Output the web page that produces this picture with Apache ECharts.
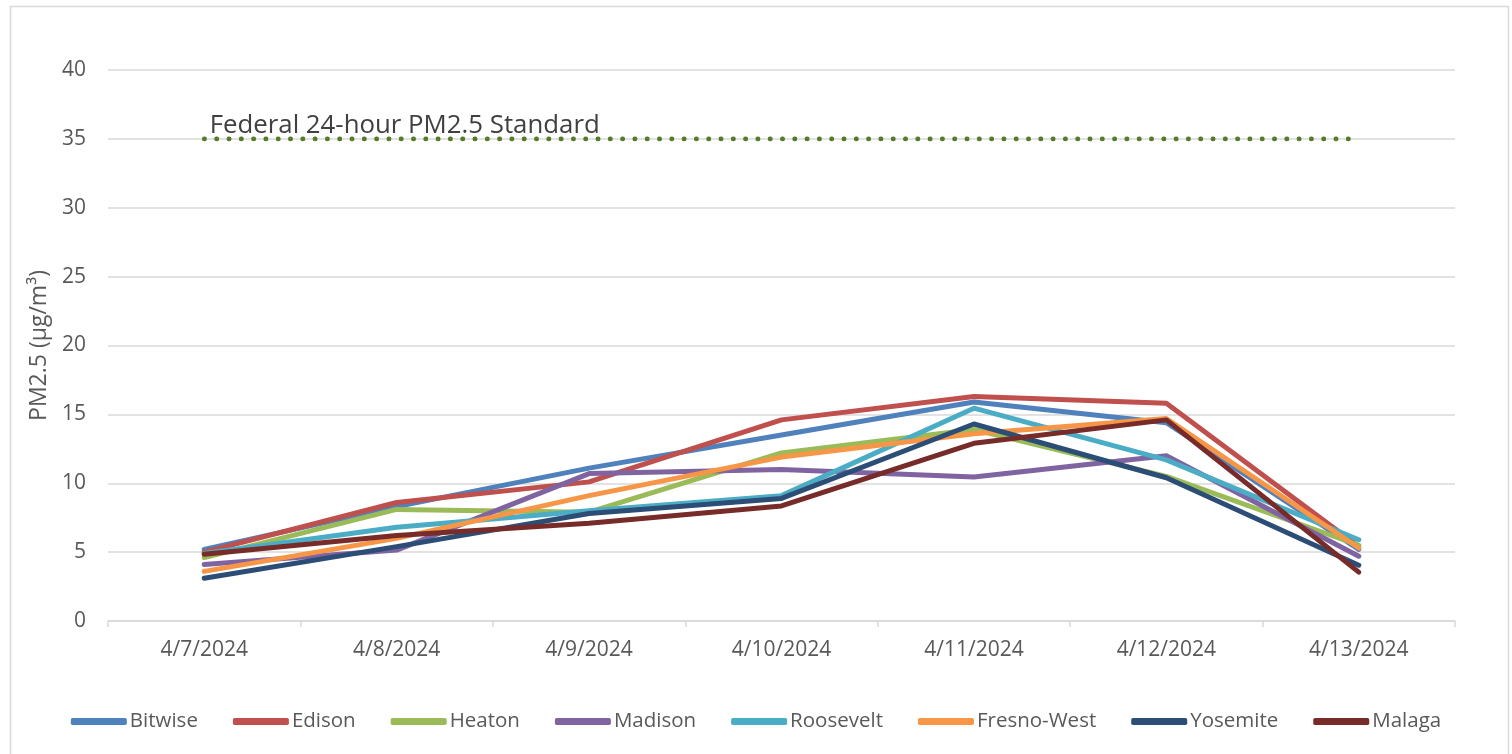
<!DOCTYPE html>
<html><head><meta charset="utf-8">
<script src="https://cdn.jsdelivr.net/npm/echarts@6/dist/echarts.min.js"></script>
<style>html,body{margin:0;padding:0;background:#fff}#c{width:1512px;height:754px}</style>
</head><body><div id="c"></div>
<script>
const categories = ['4/7/2024','4/8/2024','4/9/2024','4/10/2024','4/11/2024','4/12/2024','4/13/2024'];
const bitwise    = [5.2, 8.3, 11.1, 13.5, 15.9, 14.4, 5.2];
const edison     = [5.0, 8.6, 10.1, 14.6, 16.3, 15.8, 5.4];
const heaton     = [4.6, 8.1, 7.9, 12.2, 13.9, 10.5, 5.5];
const madison    = [4.1, 5.15, 10.7, 11.0, 10.45, 12.0, 4.7];
const roosevelt  = [4.9, 6.8, 8.0, 9.1, 15.45, 11.7, 5.9];
const fresnoWest = [3.6, 6.0, 9.1, 11.9, 13.6, 14.7, 5.3];
const yosemite   = [3.1, 5.4, 7.8, 8.9, 14.3, 10.4, 4.05];
const malaga     = [4.85, 6.2, 7.1, 8.35, 12.9, 14.6, 3.55];
const standard   = [35, 35, 35, 35, 35, 35, 35];
const standardLabel = 'Federal 24-hour PM2.5 Standard';
const yTicks = [0, 5, 10, 15, 20, 25, 30, 35, 40];

const seriesDefs = [
  ['Bitwise', bitwise, '#4F81BD'],
  ['Edison', edison, '#C0504D'],
  ['Heaton', heaton, '#9BBB59'],
  ['Madison', madison, '#8064A2'],
  ['Roosevelt', roosevelt, '#4BACC6'],
  ['Fresno-West', fresnoWest, '#F79646'],
  ['Yosemite', yosemite, '#2C4D75'],
  ['Malaga', malaga, '#772C2A']
];

const chart = echarts.init(document.getElementById('c'));
const font = 'Open Sans, Liberation Sans, sans-serif';
const series = seriesDefs.map(([n, d, c]) => ({
  name: n, type: 'line', data: d, symbol: 'none', smooth: false,
  lineStyle: { color: c, width: 5, cap: 'round', join: 'round' },
  itemStyle: { color: c }
}));
series.push({
  name: 'Standard', type: 'line', symbol: 'none', silent: true, z: 1,
  data: standard.map((v, i) => i === 0 ? {
    value: v, symbol: 'circle', symbolSize: 1,
    label: { show: true, position: 'right', align: 'left', verticalAlign: 'bottom', offset: [0, 0],
      formatter: standardLabel, color: '#404040', fontSize: 25.8, fontFamily: font }
  } : v),
  lineStyle: { color: '#587A2D', width: 4.6, type: [0.4, 11.9], cap: 'round' },
  itemStyle: { color: 'transparent' }
});

chart.setOption({
  animation: false,
  graphic: [{ type: 'rect', shape: { x: 10.5, y: 6.5, width: 1498, height: 760 },
    style: { fill: 'none', stroke: '#d9d9d9', lineWidth: 1.5 }, silent: true }],
  grid: { left: 108, right: 57, top: 70, bottom: 133, containLabel: false },
  legend: {
    data: seriesDefs.map(s => s[0]), bottom: 17, left: 'center',
    itemWidth: 56, itemHeight: 7, itemGap: 35, icon: 'roundRect',
    textStyle: { color: '#595959', fontSize: 20.5, fontFamily: font, padding: [0, 0, 0, -2] }
  },
  xAxis: {
    type: 'category', data: categories, boundaryGap: true,
    axisLine: { lineStyle: { color: '#d9d9d9', width: 1.5 } },
    axisTick: { show: true, length: 6, lineStyle: { color: '#d9d9d9', width: 1.5 } },
    axisLabel: { color: '#595959', fontSize: 21, fontFamily: font, margin: 19 }
  },
  yAxis: {
    type: 'value', min: 0, max: 40, interval: 5,
    name: 'PM2.5 (µg/m³)', nameLocation: 'middle', nameGap: 56, nameRotate: 90,
    nameTextStyle: { color: '#595959', fontSize: 23, fontFamily: font },
    axisLine: { show: false }, axisTick: { show: false },
    axisLabel: { color: '#595959', fontSize: 21, fontFamily: font, margin: 22,
      formatter: v => yTicks.includes(v) ? String(v) : '' },
    splitLine: { lineStyle: { color: '#d9d9d9', width: 1.5 } }
  },
  series: series
});
</script></body></html>
